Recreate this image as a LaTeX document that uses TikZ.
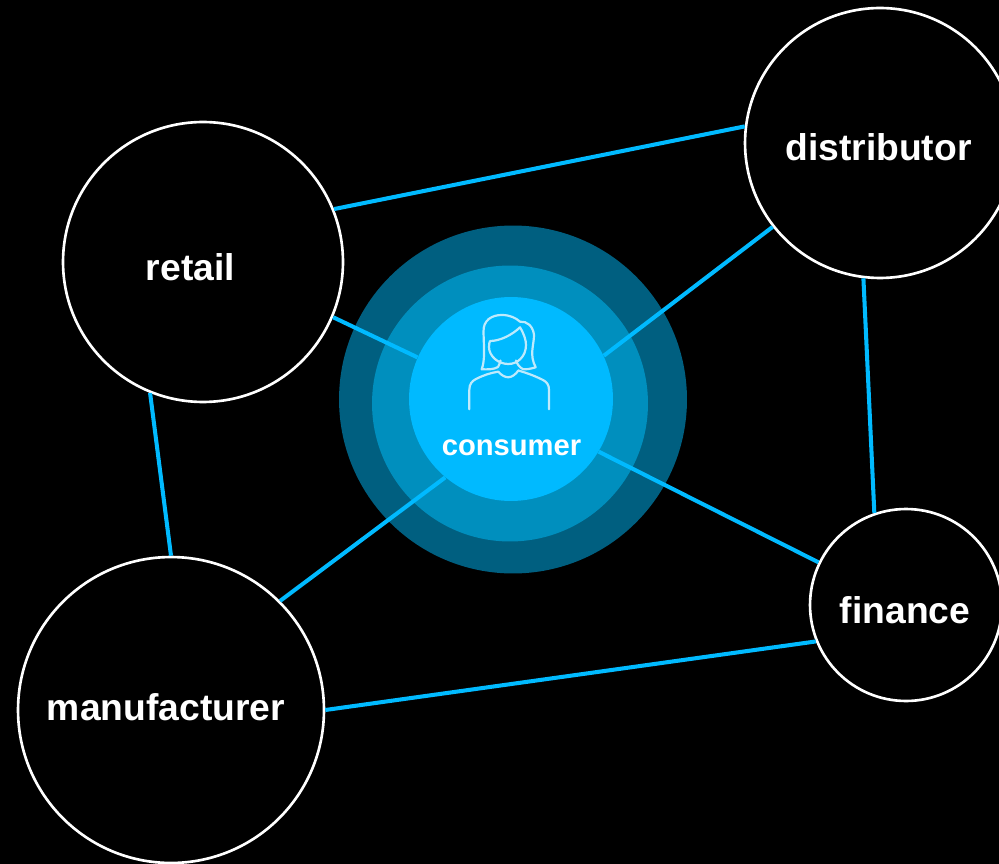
\documentclass[tikz,border=0pt]{standalone}
\usepackage{fontspec}
\setmainfont{Liberation Sans}
\definecolor{linkblue}{RGB}{0, 186, 255}
\definecolor{ringmid}{RGB}{0, 143, 190}
\definecolor{ringout}{RGB}{0, 95, 128}
\definecolor{iconline}{RGB}{190, 234, 252}
\begin{document}
\begin{tikzpicture}[
  x=0.02cm, y=-0.02cm,
  party/.style={draw=white, fill=black, circle, line width=1.5pt, inner sep=0pt},
  partylab/.style={text=white, font=\fontsize{21.2}{25}\selectfont\bfseries},
  ring/.style={circle, inner sep=0pt},
  link/.style={draw=linkblue, line width=2.3pt},
  icon/.style={draw=iconline, line width=1.25pt, line cap=round, line join=round}
]
  \useasboundingbox (0, 0) rectangle (999, 864);
  \clip (0, 0) rectangle (999, 864);
  \fill[black] (0, 0) rectangle (999, 864);

  % Rings
  \node[ring, fill=ringout, minimum size=6.96cm] (outer) at (513, 399.5) {};
  \node[ring, fill=ringmid, minimum size=5.52cm] (middle) at (510, 403.5) {};
  \node[ring, fill=linkblue, minimum size=4.08cm] (consumer) at (511, 399) {};

  % Parties
  \node[party, minimum size=5.6cm] (retail) at (203, 262) {};
  \node[party, minimum size=5.4cm] (distributor) at (880, 143) {};
  \node[party, minimum size=6.12cm] (manufacturer) at (171, 710) {};
  \node[party, minimum size=3.84cm] (finance) at (906, 605) {};

  % Labels
  \node[partylab] (retaillab) at (190.5, 267) {retail};
  \node[partylab] (distlab) at (878.5, 147) {distributor};
  \node[partylab] (manulab) at (166, 707.5) {manufacturer};
  \node[partylab] (finlab) at (905, 610) {finance};
  \node[text=white, font=\fontsize{16.6}{19}\selectfont\bfseries] (conslab) at (511.5, 447.5) {consumer};

  % Links
  \draw[link] (retail.22) -- (distributor.173);
  \draw[link] (retail.-23) -- (consumer.156);
  \draw[link] (retail.-112) -- (manufacturer.90);
  \draw[link] (distributor.218) -- (consumer.25);
  \draw[link] (distributor.263) -- (finance.109);
  \draw[link] (manufacturer.45) -- (consumer.230);
  \draw[link] (manufacturer.0) -- (finance.202);
  \draw[link] (consumer.-31) -- (finance.154);

  % Person icon
  \draw[icon] (481.7, 369.3) .. controls (485, 360) and (484, 350) .. (483.5, 332)
    .. controls (483, 320) and (492, 315) .. (501.7, 315)
    .. controls (510, 315) and (516, 318) .. (520, 321.7)
    .. controls (527, 321) and (533, 326) .. (534, 335)
    .. controls (534, 345) and (529, 355) .. (535.7, 367.3)
    .. controls (530, 369) and (526, 369.5) .. (523.3, 369.3)
    .. controls (520, 368) and (517, 364) .. (516, 360.5);
  \draw[icon] (481.7, 369.3) .. controls (488, 369.5) and (494, 369.5) .. (498, 367)
    .. controls (499.5, 365) and (500, 362) .. (500.5, 360.5);
  \draw[icon] (490, 341) .. controls (500, 341) and (512, 335) .. (520, 327.3)
    .. controls (524, 334) and (526, 340) .. (526, 345)
    .. controls (526, 356) and (518, 364) .. (508.3, 364)
    .. controls (498, 364) and (489, 356) .. (489, 347)
    .. controls (489, 344) and (489.5, 342) .. (490, 341);
  \draw[icon] (498.3, 371.7) .. controls (501, 375) and (505, 377.3) .. (508.3, 377.3)
    .. controls (512, 377.3) and (516, 374) .. (518.3, 370.5);
  \draw[icon] (469.3, 409.3) -- (469.3, 390)
    .. controls (469.3, 384) and (472, 381) .. (476, 379)
    .. controls (484, 375) and (490, 373) .. (498.3, 371.7);
  \draw[icon] (518.3, 370.5) .. controls (527, 373) and (535, 376) .. (543, 380)
    .. controls (547, 382) and (549, 385) .. (549, 390) -- (549, 409.3);
\end{tikzpicture}
\end{document}
